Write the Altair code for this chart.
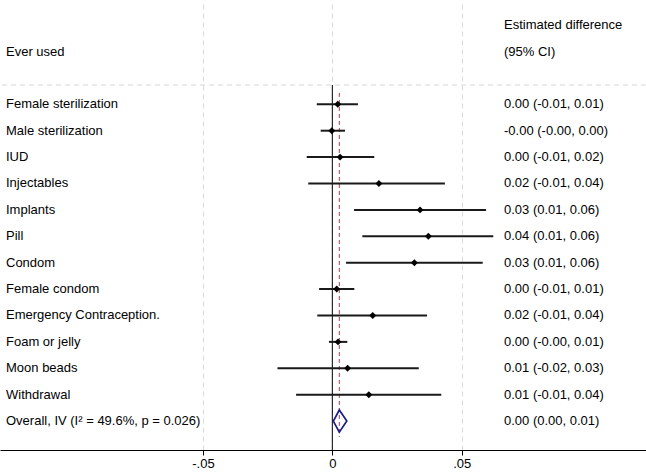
import altair as alt
import pandas as pd

# Methods of contraception ("ever used") and estimated differences with 95% CI
methods = [
    "Female sterilization", "Male sterilization", "IUD", "Injectables",
    "Implants", "Pill", "Condom", "Female condom",
    "Emergency Contraception.", "Foam or jelly", "Moon beads", "Withdrawal",
]
estimate = [0.0021, -0.0002, 0.0030, 0.0180, 0.0339, 0.0371, 0.0317, 0.0017,
            0.0156, 0.0022, 0.0059, 0.0141]
ci_low = [-0.0060, -0.0045, -0.0099, -0.0093, 0.0084, 0.0116, 0.0053, -0.0051,
          -0.0058, -0.0013, -0.0212, -0.0140]
ci_high = [0.0099, 0.0049, 0.0162, 0.0435, 0.0594, 0.0622, 0.0581, 0.0085,
           0.0366, 0.0058, 0.0334, 0.0421]

overall_label = "Overall, IV (I\u00b2 = 49.6%, p = 0.026)"
overall_est, overall_low, overall_high = 0.0027, 0.0004, 0.0056

tick_values = [-0.05, 0, 0.05]

FONT = "Liberation Sans"
X_DOMAIN = [-0.1284, 0.1212]
Y_DOMAIN = [-2.951, 14.096]   # row units: headers at -2/-1, studies at 1..12, overall at 13

def fmt_ci(e, l, h):
    return f"{e:.2f} ({l:.2f}, {h:.2f})"

rows = pd.DataFrame({
    "label": methods,
    "est": estimate,
    "low": ci_low,
    "high": ci_high,
    "row": list(range(1, len(methods) + 1)),
})
rows["ci_text"] = [fmt_ci(e, l, h) for e, l, h in zip(estimate, ci_low, ci_high)]

overall_row = len(methods) + 1
text_rows = pd.concat([
    rows[["label", "ci_text", "row"]],
    pd.DataFrame({"label": [overall_label],
                  "ci_text": [fmt_ci(overall_est, overall_low, overall_high)],
                  "row": [overall_row]}),
])

headers_left = pd.DataFrame({"text": ["Ever used"], "row": [-1]})
headers_right = pd.DataFrame({"text": ["Estimated difference", "(95% CI)"], "row": [-2, -1]})

half_h = 0.42
diamond = pd.DataFrame({
    "x": [overall_low, overall_est, overall_high, overall_est, overall_low],
    "row": [overall_row, overall_row - half_h, overall_row, overall_row + half_h, overall_row],
    "o": [0, 1, 2, 3, 4],
})

x_scale = alt.Scale(domain=X_DOMAIN, nice=False, zero=False)
y_scale = alt.Scale(domain=Y_DOMAIN, nice=False, zero=False, reverse=True)

x_axis = alt.Axis(
    values=tick_values, title=None, grid=True, gridDash=[5, 4], gridColor="#dadada",
    gridWidth=1, domainColor="black", domainWidth=1, tickColor="black", tickSize=5,
    labelFont=FONT, labelFontSize=13, labelColor="black", labelPadding=2,
    labelExpr="datum.value == 0 ? '0' : (datum.value < 0 ? '-' : '') + "
              "substring(format(abs(datum.value), '.2f'), 1)",
)

def xq(field):
    return alt.X(field, type="quantitative", scale=x_scale, axis=x_axis)

def yq(field):
    return alt.Y(field, type="quantitative", scale=y_scale, axis=None)

# top separator
sep = alt.Chart(pd.DataFrame({"row": [0.27]})).mark_rule(
    color="#d6d6d6", strokeDash=[5, 4], strokeWidth=1
).encode(y=yq("row"))

# line of no effect
zero_line = alt.Chart(pd.DataFrame({"x": [0.0], "row": [0.27], "row2": [Y_DOMAIN[1]]})).mark_rule(
    color="black", strokeWidth=1
).encode(x=xq("x"), y=yq("row"), y2="row2")

# overall effect line
overall_line = alt.Chart(pd.DataFrame({"x": [overall_est], "row": [0.57], "row2": [13.6]})).mark_rule(
    color="#b03c46", strokeDash=[4, 3], strokeWidth=1
).encode(x=xq("x"), y=yq("row"), y2="row2")

ci = alt.Chart(rows).mark_rule(color="#1a1a1a", strokeWidth=2).encode(
    x=xq("low"), x2="high", y=yq("row")
)

points = alt.Chart(rows).mark_point(
    shape="diamond", filled=True, color="black", size=48, opacity=1
).encode(x=xq("est"), y=yq("row"))

pooled = alt.Chart(diamond).mark_line(color="#1c1c84", strokeWidth=1.7).encode(
    x=xq("x"), y=yq("row"), order="o:O"
)

text_style = dict(align="left", baseline="middle", font=FONT, fontSize=13, color="black")

left_text = alt.Chart(text_rows).mark_text(**text_style).encode(
    x=alt.value(6), y=yq("row"), text="label:N"
)

right_text = alt.Chart(text_rows).mark_text(**text_style).encode(
    x=alt.value(504), y=yq("row"), text="ci_text:N"
)

head_left = alt.Chart(headers_left).mark_text(**text_style).encode(
    x=alt.value(6), y=yq("row"), text="text:N"
)

head_right = alt.Chart(headers_right).mark_text(**text_style).encode(
    x=alt.value(504), y=yq("row"), text="text:N"
)

chart = alt.layer(
    sep, zero_line, overall_line, ci, points, pooled,
    left_text, right_text, head_left, head_right,
).properties(
    width=646, height=450,
    autosize=alt.AutoSizeParams(type="none"),
    padding={"left": 0, "top": 0, "right": 0, "bottom": 23},
    background="white",
).configure_view(stroke=None)

chart.save("out.html", embed_options={"renderer": "svg", "actions": False})
